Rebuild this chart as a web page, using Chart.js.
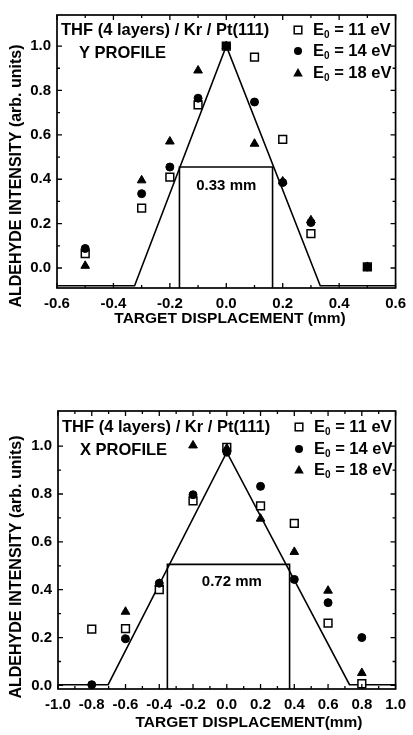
<!DOCTYPE html>
<html>
<head>
<meta charset="utf-8">
<script src="https://cdn.jsdelivr.net/npm/chart.js@4.4.0/dist/chart.umd.min.js"></script>
<style>
html,body{margin:0;padding:0;background:#fff;}
#wrap{position:relative;width:413px;height:735px;overflow:hidden;background:#fff;}
canvas{position:absolute;left:0;}
#c1{top:0;}
#c2{top:350px;}
</style>
</head>
<body>
<div id="wrap">
<canvas id="c1" width="413" height="350"></canvas>
<canvas id="c2" width="413" height="385"></canvas>
</div>
<script>
// ---------- Y PROFILE (top) ----------
const topX    = [-0.5, -0.3, -0.2, -0.1, 0.0, 0.1, 0.2, 0.3, 0.5];
const topE11  = [0.065, 0.27, 0.41, 0.735, 1.0, 0.95, 0.58, 0.155, 0.005];
const topE14  = [0.088, 0.335, 0.455, 0.765, 1.0, 0.748, 0.385, 0.205, 0.005];
const topE18  = [0.01, 0.395, 0.57, 0.89, 1.0, 0.56, 0.39, 0.215, 0.005];
const topFitX = [-0.6, -0.325, 0.0, 0.333, 0.6];
const topFitY = [-0.08, -0.08, 1.0, -0.08, -0.08];
const topBrX  = [-0.166, -0.166, 0.164, 0.164];
const topBrY  = [-0.09, 0.455, 0.455, -0.09];
const topXTicks = [-0.6, -0.4, -0.2, 0.0, 0.2, 0.4, 0.6];
const topYTicks = [0.0, 0.2, 0.4, 0.6, 0.8, 1.0];

// ---------- X PROFILE (bottom) ----------
const botX    = [-0.8, -0.6, -0.4, -0.2, 0.0, 0.2, 0.4, 0.6, 0.8];
const botE11  = [0.235, 0.237, 0.40, 0.771, 0.995, 0.75, 0.677, 0.26, 0.007];
const botE14  = [0.003, 0.195, 0.427, 0.797, 0.975, 0.832, 0.443, 0.346, 0.2];
const botE18  = [null, 0.308, 0.425, 1.003, 0.99, 0.697, 0.558, 0.396, 0.052];
const botFitX = [-1.0, -0.703, 0.0, 0.727, 1.0];
const botFitY = [0.003, 0.003, 0.975, 0.003, 0.003];
const botBrX  = [-0.352, -0.352, 0.372, 0.372];
const botBrY  = [-0.015, 0.506, 0.506, -0.015];
const botXTicks = [-1.0, -0.8, -0.6, -0.4, -0.2, 0.0, 0.2, 0.4, 0.6, 0.8, 1.0];
const botYTicks = [0.0, 0.2, 0.4, 0.6, 0.8, 1.0];

const seriesLabels = ['11', '14', '18'];
const sampleTitle = 'THF (4 layers) / Kr / Pt(111)';
const yTitle = 'ALDEHYDE INTENSITY (arb. units)';

const FONT = '"Liberation Sans", Arial, sans-serif';

function pts(xs, ys) {
  const out = [];
  xs.forEach((x, i) => { if (ys[i] !== null && ys[i] !== undefined) out.push({x: x, y: ys[i]}); });
  return out;
}

function makeDatasets(xs, e11, e14, e18, fx, fy, bx, by) {
  return [
    {label: 'E11', order: 3, data: pts(xs, e11), pointStyle: 'rect', pointRadius: 5.5, pointBackgroundColor: '#fff', pointBorderColor: '#000', pointBorderWidth: 1.5, showLine: false},
    {label: 'E14', order: 1, data: pts(xs, e14), pointStyle: 'circle', pointRadius: 4, pointBackgroundColor: '#000', pointBorderColor: '#000', pointBorderWidth: 1, showLine: false},
    {label: 'E18', order: 2, data: pts(xs, e18), pointStyle: 'triangle', pointRadius: 5, pointBackgroundColor: '#000', pointBorderColor: '#000', pointBorderWidth: 1, showLine: false},
    {label: 'fit', order: 4, data: pts(fx, fy), showLine: true, borderColor: '#000', borderWidth: 1.6, pointRadius: 0, tension: 0},
    {label: 'fwhm', order: 5, data: pts(bx, by), showLine: true, borderColor: '#000', borderWidth: 1.6, pointRadius: 0, tension: 0}
  ];
}

function tickVals(min, max, step) {
  const out = [];
  const n = Math.round((max - min) / step);
  for (let i = 0; i <= n; i++) out.push(+(min + i * step).toFixed(4));
  return out;
}

function framePlugin(cfg) {
  return {
    id: 'frame' + cfg.id,
    afterDatasetsDraw(chart) {
      const ctx = chart.ctx;
      const a = chart.chartArea;
      const xs = chart.scales.x, ys = chart.scales.y;
      ctx.save();
      ctx.strokeStyle = '#000';
      ctx.lineWidth = 1.7;
      ctx.strokeRect(a.left, a.top, a.right - a.left, a.bottom - a.top);
      ctx.lineWidth = 1.3;
      tickVals(cfg.xMin, cfg.xMax, cfg.xMinor).forEach((v, i) => {
        const px = xs.getPixelForValue(v);
        const len = (i % 2 === 0) ? 5 : 3;
        ctx.beginPath();
        ctx.moveTo(px, a.bottom); ctx.lineTo(px, a.bottom - len);
        ctx.moveTo(px, a.top); ctx.lineTo(px, a.top + len);
        ctx.stroke();
      });
      tickVals(0, 1.0, 0.1).forEach((v, i) => {
        const py = ys.getPixelForValue(v);
        const len = (i % 2 === 0) ? 5 : 3;
        ctx.beginPath();
        ctx.moveTo(a.left, py); ctx.lineTo(a.left + len, py);
        ctx.moveTo(a.right, py); ctx.lineTo(a.right - len, py);
        ctx.stroke();
      });
      ctx.fillStyle = '#000';
      ctx.textBaseline = 'middle';
      ctx.textAlign = 'left';
      ctx.font = 'bold 16.5px ' + FONT;
      ctx.fillText(sampleTitle, a.left + 4, a.top + cfg.titleDy);
      ctx.fillText(cfg.profile, a.left + 22, a.top + cfg.profDy);
      const lx = a.left + 241, tx = a.left + 256;
      seriesLabels.forEach((s, i) => {
        const ly = a.top + cfg.legDy[i];
        ctx.lineWidth = 1.5;
        if (i === 0) {
          ctx.fillStyle = '#fff'; ctx.fillRect(lx - 3.8, ly - 3.8, 7.6, 7.6);
          ctx.strokeRect(lx - 3.8, ly - 3.8, 7.6, 7.6);
        } else if (i === 1) {
          ctx.fillStyle = '#000'; ctx.beginPath(); ctx.arc(lx, ly, 4, 0, Math.PI * 2); ctx.fill();
        } else {
          ctx.fillStyle = '#000'; ctx.beginPath();
          ctx.moveTo(lx, ly - 5); ctx.lineTo(lx + 4.8, ly + 3.6); ctx.lineTo(lx - 4.8, ly + 3.6); ctx.closePath(); ctx.fill();
        }
        ctx.fillStyle = '#000';
        ctx.font = 'bold 16.5px ' + FONT;
        ctx.fillText('E', tx, ly);
        const ew = ctx.measureText('E').width;
        ctx.font = 'bold 10px ' + FONT;
        ctx.fillText('0', tx + ew, ly + 5);
        const zw = ctx.measureText('0').width;
        ctx.font = 'bold 16.5px ' + FONT;
        ctx.fillText(' = ' + s + ' eV', tx + ew + zw, ly);
      });
      ctx.textAlign = 'center';
      ctx.font = 'bold 15px ' + FONT;
      ctx.fillText(cfg.fwhmText, xs.getPixelForValue(cfg.fwhmX), ys.getPixelForValue(cfg.fwhmY));
      ctx.font = 'bold 15.5px ' + FONT;
      ctx.fillText(cfg.xTitle, cfg.xTitleX, cfg.xTitleY);
      ctx.save();
      ctx.translate(cfg.yTitleX, cfg.yTitleY);
      ctx.rotate(-Math.PI / 2);
      ctx.font = 'bold 16px ' + FONT;
      ctx.fillText(yTitle, 0, 0);
      ctx.restore();
      ctx.restore();
    }
  };
}

function makeChart(id, datasets, opts) {
  return new Chart(document.getElementById(id), {
    type: 'scatter',
    data: {datasets: datasets},
    options: {
      responsive: false,
      animation: false,
      layout: {padding: {top: opts.padTop, right: opts.padRight, left: 0, bottom: 0}},
      plugins: {legend: {display: false}, tooltip: {enabled: false}},
      scales: {
        x: {
          type: 'linear', min: opts.xMin, max: opts.xMax,
          grid: {display: false, drawTicks: false},
          border: {display: false},
          afterBuildTicks: (s) => { s.ticks = opts.xTicks.map(v => ({value: v})); },
          afterFit: (s) => { s.height = opts.xHeight; },
          ticks: {padding: 7, color: '#000', font: {family: FONT, weight: 'bold', size: 15}, maxRotation: 0, autoSkip: false,
                  callback: (v) => Number(v).toFixed(1)}
        },
        y: {
          type: 'linear', min: opts.yMin, max: opts.yMax,
          grid: {display: false, drawTicks: false},
          border: {display: false},
          afterBuildTicks: (s) => { s.ticks = opts.yTicks.map(v => ({value: v})); },
          afterFit: (s) => { s.width = opts.yWidth; },
          ticks: {padding: 6, color: '#000', font: {family: FONT, weight: 'bold', size: 15},
                  callback: (v) => Number(v).toFixed(1)}
        }
      }
    },
    plugins: [framePlugin(opts)]
  });
}

makeChart('c1', makeDatasets(topX, topE11, topE14, topE18, topFitX, topFitY, topBrX, topBrY), {
  id: 1, xMin: -0.6, xMax: 0.6, yMin: -0.09, yMax: 1.14, xMinor: 0.1,
  xTicks: topXTicks, yTicks: topYTicks,
  padTop: 12, padRight: 11, xHeight: 62, yWidth: 57,
  titleDy: 15, profDy: 38, legDy: [15, 36, 58],
  profile: 'Y PROFILE', fwhmText: '0.33 mm', fwhmX: 0.0, fwhmY: 0.37,
  xTitle: 'TARGET DISPLACEMENT (mm)', xTitleX: 230, xTitleY: 319,
  yTitleX: 17, yTitleY: 176
});

makeChart('c2', makeDatasets(botX, botE11, botE14, botE18, botFitX, botFitY, botBrX, botBrY), {
  id: 2, xMin: -1.0, xMax: 1.0, yMin: -0.015, yMax: 1.147, xMinor: 0.1,
  xTicks: botXTicks, yTicks: botYTicks,
  padTop: 61, padRight: 11, xHeight: 46, yWidth: 58,
  titleDy: 16, profDy: 39, legDy: [16, 38, 59],
  profile: 'X PROFILE', fwhmText: '0.72 mm', fwhmX: 0.03, fwhmY: 0.433,
  xTitle: 'TARGET DISPLACEMENT(mm)', xTitleX: 249, xTitleY: 373,
  yTitleX: 17, yTitleY: 217
});
</script>
</body>
</html>
